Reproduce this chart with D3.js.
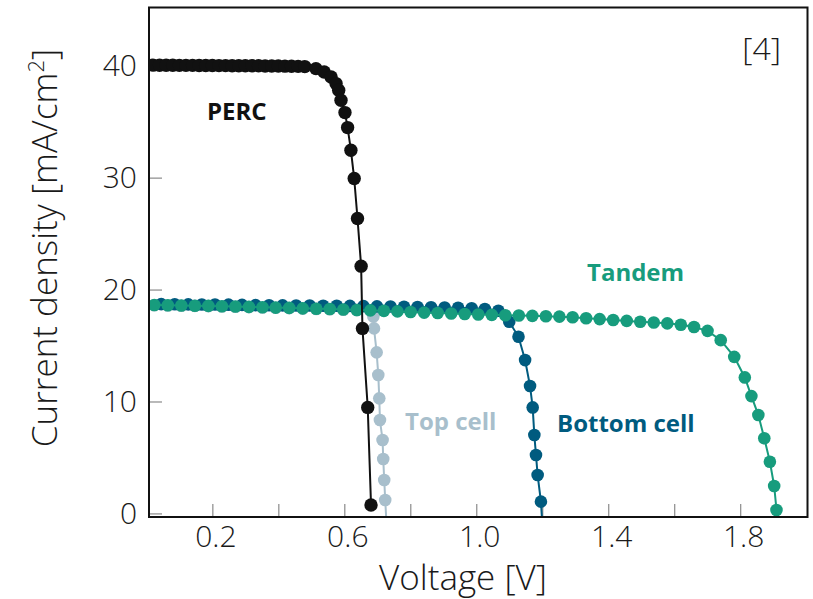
<!DOCTYPE html>
<html lang="en">
<head>
<meta charset="utf-8">
<style>
  body { margin: 0; background: #fff; }
  svg text { font-family: "Open Sans", "Noto Sans", sans-serif; }
</style>
</head>
<body>
<svg id="chart" width="813" height="599"></svg>
<script src="https://d3js.org/d3.v7.min.js"></script>
<script>
// ---- data (voltage in V, current density in mA/cm2) ----
var percV = [0.00, 0.02, 0.04, 0.06, 0.08, 0.10, 0.12, 0.14, 0.16, 0.18, 0.20, 0.22, 0.24,
  0.26, 0.28, 0.30, 0.32, 0.34, 0.36, 0.38, 0.40, 0.42, 0.44, 0.46, 0.48,
  0.514, 0.539, 0.560, 0.575, 0.583, 0.590, 0.602, 0.610, 0.620, 0.630, 0.640, 0.651, 0.655, 0.671, 0.681];
var percJ = [40.05, 40.05, 40.04, 40.04, 40.04, 40.03, 40.03, 40.03, 40.02, 40.02, 40.02, 40.01, 40.01,
  40.00, 40.00, 40.00, 39.99, 39.99, 39.98, 39.98, 39.97, 39.96, 39.95, 39.94, 39.92,
  39.74, 39.44, 38.99, 38.40, 37.81, 36.91, 35.81, 34.47, 32.45, 29.92, 26.35, 22.09, 16.53, 9.47, 0.75];

var tandemV = [0.024, 0.065, 0.106, 0.147, 0.188, 0.229, 0.270, 0.311, 0.352, 0.392, 0.433, 0.474,
  0.515, 0.556, 0.597, 0.638, 0.679, 0.720, 0.761, 0.801, 0.842, 0.883, 0.924, 0.965, 1.006, 1.047,
  1.088, 1.129, 1.170, 1.211, 1.252, 1.292, 1.333, 1.374, 1.415, 1.456, 1.497, 1.538, 1.579, 1.620,
  1.660, 1.701, 1.741, 1.782, 1.814, 1.834, 1.855, 1.873, 1.890, 1.903, 1.910];
var tandemJ = [18.62, 18.60, 18.58, 18.56, 18.54, 18.51, 18.48, 18.45, 18.42, 18.39, 18.36, 18.32,
  18.29, 18.26, 18.22, 18.18, 18.14, 18.10, 18.05, 18.00, 17.94, 17.90, 17.86, 17.81, 17.77, 17.74,
  17.71, 17.68, 17.65, 17.62, 17.58, 17.52, 17.44, 17.36, 17.28, 17.20, 17.13, 17.06, 16.98, 16.86,
  16.66, 16.31, 15.48, 13.99, 12.15, 10.48, 8.79, 6.71, 4.62, 2.45, 0.31];

var bottomV = [0.045, 0.086, 0.127, 0.168, 0.208, 0.249, 0.290, 0.331, 0.372, 0.413, 0.454, 0.495,
  0.536, 0.577, 0.617, 0.658, 0.699, 0.740, 0.781, 0.822, 0.863, 0.904, 0.945, 0.986, 1.026, 1.067,
  1.100, 1.128, 1.148, 1.163, 1.171, 1.176, 1.181, 1.186, 1.196];
var bottomJ = [18.70, 18.69, 18.68, 18.67, 18.66, 18.65, 18.63, 18.61, 18.60, 18.59, 18.58, 18.57,
  18.56, 18.55, 18.54, 18.52, 18.50, 18.48, 18.46, 18.44, 18.42, 18.40, 18.37, 18.33, 18.26, 18.11,
  17.12, 15.78, 13.70, 11.38, 9.47, 7.00, 5.22, 3.43, 1.05];

var topV = [0.024, 0.065, 0.106, 0.147, 0.188, 0.229, 0.270, 0.311, 0.352, 0.392, 0.433, 0.474,
  0.515, 0.556, 0.597, 0.638, 0.679,
  0.688, 0.690, 0.698, 0.703, 0.706, 0.708, 0.716, 0.718, 0.721, 0.724];
var topJ = [18.60, 18.58, 18.56, 18.54, 18.52, 18.49, 18.46, 18.43, 18.40, 18.37, 18.34, 18.30,
  18.27, 18.24, 18.20, 18.16, 18.12,
  17.59, 16.53, 14.39, 12.36, 10.28, 8.34, 6.56, 4.86, 2.98, 1.20];

// open-circuit ends of the curves (line runs on to the axis, no marker)
var seriesNames = ["Top cell", "Bottom cell", "Tandem", "PERC"];
var endV = [0.727, 1.199, 1.915, null];

var xTickValues = [0.2, 0.4, 0.6, 0.8, 1.0, 1.2, 1.4, 1.6, 1.8];
var xTickLabels = ["0.2", "", "0.6", "", "1.0", "", "1.4", "", "1.8"];
var yTickValues = [0, 10, 20, 30, 40];
var yTickLabels = ["0", "10", "20", "30", "40"];

// ---- layout ----
var svg = d3.select("#chart");
var box = {left: 149, right: 807.5, top: 7.5, bottom: 517};

var x = d3.scaleLinear().domain([0.008, 2.004]).range([box.left, box.right]);
var y = d3.scaleLinear().domain([-0.32, 45.2]).range([box.bottom, box.top]);

var colors = {"PERC": "#111111", "Tandem": "#179c7d", "Bottom cell": "#005b7f", "Top cell": "#a8bfcc"};
var series = {
  "PERC": [percV, percJ],
  "Tandem": [tandemV, tandemJ],
  "Bottom cell": [bottomV, bottomJ],
  "Top cell": [topV, topJ]
};

svg.append("defs").append("clipPath").attr("id", "plotclip")
  .append("rect")
    .attr("x", box.left).attr("y", box.top)
    .attr("width", box.right - box.left).attr("height", box.bottom - box.top);

// axes with inward ticks
var xAxis = svg.append("g")
    .attr("transform", "translate(0," + box.bottom + ")")
    .call(d3.axisBottom(x).tickValues(xTickValues).tickSize(-13).tickPadding(9)
      .tickFormat(function(d, i) { return xTickLabels[i]; }));

var yAxis = svg.append("g")
    .attr("transform", "translate(" + box.left + ",0)")
    .call(d3.axisLeft(y).tickValues(yTickValues).tickSize(-13).tickPadding(12)
      .tickFormat(function(d, i) { return yTickLabels[i]; }));

[xAxis, yAxis].forEach(function(a) {
  a.select(".domain").remove();
  a.selectAll(".tick line").attr("stroke", "#8a8a8a").attr("stroke-width", 1.2);
  a.selectAll(".tick text")
    .attr("fill", "#1a1a1a")
    .style("font-size", "30px")
    .style("font-weight", "300");
});
xAxis.selectAll(".tick text").attr("dx", 3);

// curves
var plot = svg.append("g").attr("clip-path", "url(#plotclip)");
var line = d3.line().x(function(d) { return x(d[0]); }).y(function(d) { return y(d[1]); });

seriesNames.forEach(function(name, k) {
  var v = series[name][0], j = series[name][1];
  var pts = v.map(function(d, i) { return [d, j[i]]; });
  var linePts = pts.slice();
  if (endV[k] !== null) linePts.push([endV[k], -0.4]);

  var g = plot.append("g");
  g.append("path")
    .datum(linePts)
    .attr("d", line)
    .attr("fill", "none")
    .attr("stroke", colors[name])
    .attr("stroke-width", 2);

  g.selectAll("circle").data(pts)
    .enter().append("circle")
      .attr("cx", function(d) { return x(d[0]); })
      .attr("cy", function(d) { return y(d[1]); })
      .attr("r", name === "PERC" ? 6.7 : 6.3)
      .attr("fill", colors[name]);
});

// frame
svg.append("rect")
  .attr("x", box.left).attr("y", box.top)
  .attr("width", box.right - box.left).attr("height", box.bottom - box.top)
  .attr("fill", "none")
  .attr("stroke", "#111")
  .attr("stroke-width", 2);

// series labels
var labels = [
  {text: "PERC", x: 207, y: 120},
  {text: "Tandem", x: 587, y: 281},
  {text: "Top cell", x: 405, y: 430},
  {text: "Bottom cell", x: 557, y: 432}
];
svg.selectAll(".serieslabel").data(labels)
  .enter().append("text")
    .attr("class", "serieslabel")
    .attr("x", function(d) { return d.x; })
    .attr("y", function(d) { return d.y; })
    .attr("fill", function(d) { return colors[d.text]; })
    .style("font-size", "24px")
    .style("font-weight", "bold")
    .text(function(d) { return d.text; });

// reference tag
svg.append("text")
  .attr("x", 781).attr("y", 60)
  .attr("text-anchor", "end")
  .attr("fill", "#1a1a1a")
  .style("font-size", "32px")
  .style("font-weight", "300")
  .text("[4]");

// axis titles
svg.append("text")
  .attr("x", 463).attr("y", 590)
  .attr("text-anchor", "middle")
  .attr("fill", "#1a1a1a")
  .style("font-size", "35px")
  .style("font-weight", "300")
  .text("Voltage [V]");

var yt = svg.append("text")
  .attr("transform", "translate(57,248) rotate(-90)")
  .attr("text-anchor", "middle")
  .attr("fill", "#1a1a1a")
  .style("font-size", "35px")
  .style("font-weight", "300");
yt.append("tspan").text("Current density [mA/cm");
yt.append("tspan").attr("dy", -13).style("font-size", "22px").text("2");
yt.append("tspan").attr("dy", 13).text("]");
</script>
</body>
</html>
